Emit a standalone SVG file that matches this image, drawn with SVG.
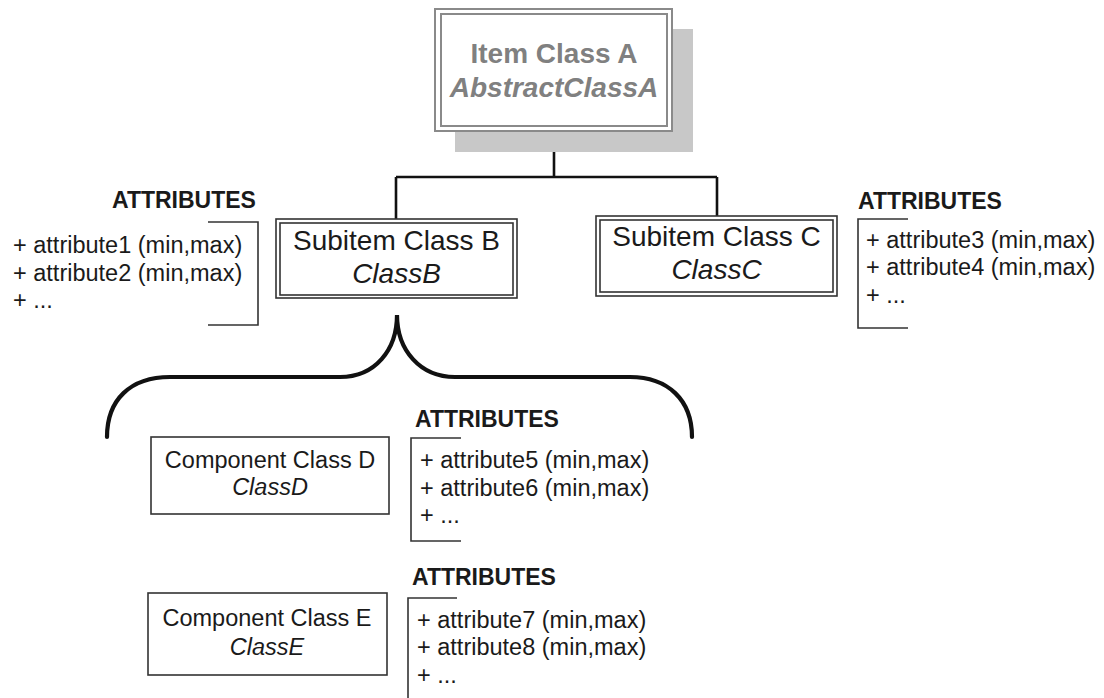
<svg xmlns="http://www.w3.org/2000/svg" width="1104" height="698" viewBox="0 0 1104 698">
<style>
text{font-family:"Liberation Sans",Arial,sans-serif;fill:#1a1a1a}
.ttl{font-size:28px;text-anchor:middle}
.ttlA{font-size:28px;text-anchor:middle;font-weight:bold;fill:#808080}
.cmp{font-size:23.5px;text-anchor:middle}
.it{font-style:italic}
.hd{font-size:23px;font-weight:bold}
.at{font-size:23.5px}
.box{fill:#fff;stroke:#333;stroke-width:1.6}
.boxA{fill:#fff;stroke:#8a8a8a;stroke-width:2}
.br{fill:none;stroke:#333;stroke-width:1.6}
.con{fill:none;stroke:#111;stroke-width:2.6}
</style>
<g id="connectors">
<path class="con" d="M554,131 V177 M396,177 H717 M396,177 V219 M717,177 V216"/>
<path d="M107,437 C107,400 130,377 170,377 L340,377 C375,377 397,350 397,315 C397,350 420,377 455,377 L630,377 C668,377 692,400 692,437" fill="none" stroke="#111" stroke-width="4.2" stroke-linecap="round"/>
</g>
<g id="nodeA">
<rect x="455" y="29" width="238" height="123" fill="#c8c8c8"/>
<rect class="boxA" x="435" y="9" width="237" height="122"/>
<rect x="441" y="14" width="226" height="112" fill="none" stroke="#8a8a8a" stroke-width="2"/>
<text class="ttlA" x="554" y="63">Item Class A</text>
<text class="ttlA it" x="554" y="97">AbstractClassA</text>
</g>
<g id="nodeB">
<rect class="box" x="276" y="219" width="241" height="79"/>
<rect class="br" x="280" y="223" width="233" height="72"/>
<text class="ttl" x="396.5" y="250">Subitem Class B</text>
<text class="ttl it" x="396.5" y="283">ClassB</text>
</g>
<g id="nodeC">
<rect class="box" x="596" y="216" width="241" height="80"/>
<rect class="br" x="600" y="220" width="233" height="72"/>
<text class="ttl" x="716.5" y="246">Subitem Class C</text>
<text class="ttl it" x="716.5" y="279">ClassC</text>
</g>
<g id="attrB">
<text class="hd" x="112" y="208">ATTRIBUTES</text>
<path class="br" d="M208,222 H258 V325 H208"/>
<text class="at" x="13" y="253">+ attribute1 (min,max)</text>
<text class="at" x="13" y="281">+ attribute2 (min,max)</text>
<text class="at" x="13" y="308">+ ...</text>
</g>
<g id="attrC">
<text class="hd" x="858" y="209">ATTRIBUTES</text>
<path class="br" d="M908,219 H858 V328 H908"/>
<text class="at" x="866" y="248">+ attribute3 (min,max)</text>
<text class="at" x="866" y="275">+ attribute4 (min,max)</text>
<text class="at" x="866" y="303">+ ...</text>
</g>
<g id="nodeD">
<rect class="box" x="151" y="437" width="238" height="77"/>
<text class="cmp" x="270" y="468">Component Class D</text>
<text class="cmp it" x="270" y="495">ClassD</text>
</g>
<g id="attrD">
<text class="hd" x="415" y="427">ATTRIBUTES</text>
<path class="br" d="M461,438 H411 V541 H461"/>
<text class="at" x="420" y="468">+ attribute5 (min,max)</text>
<text class="at" x="420" y="496">+ attribute6 (min,max)</text>
<text class="at" x="420" y="523">+ ...</text>
</g>
<g id="nodeE">
<rect class="box" x="148" y="593" width="239" height="82"/>
<text class="cmp" x="267" y="626">Component Class E</text>
<text class="cmp it" x="267" y="655">ClassE</text>
</g>
<g id="attrE">
<text class="hd" x="412" y="585">ATTRIBUTES</text>
<path class="br" d="M457,598 H408 V698"/>
<text class="at" x="417" y="628">+ attribute7 (min,max)</text>
<text class="at" x="417" y="655">+ attribute8 (min,max)</text>
<text class="at" x="417" y="683">+ ...</text>
</g>
</svg>
